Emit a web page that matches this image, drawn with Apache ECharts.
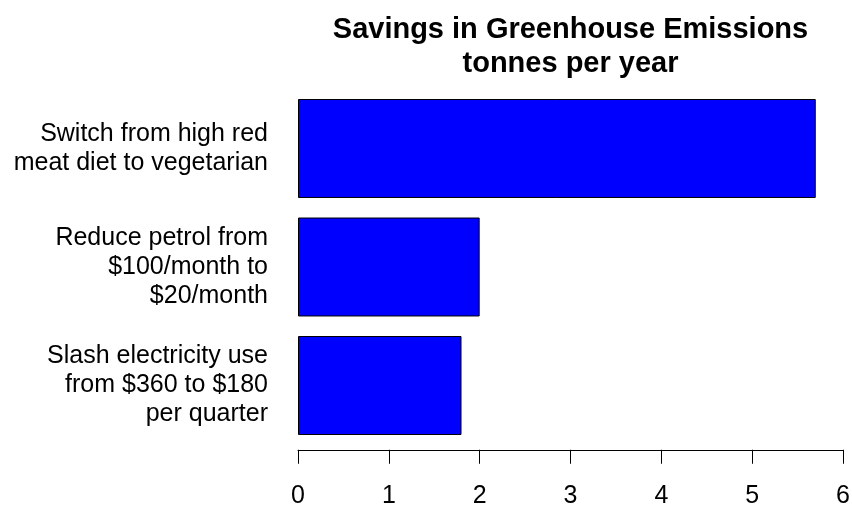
<!DOCTYPE html>
<html>
<head>
<meta charset="utf-8">
<script src="https://cdn.jsdelivr.net/npm/echarts@6/dist/echarts.min.js"></script>
<style>html,body{margin:0;padding:0;background:#fff}#c{width:852px;height:506px}</style>
</head>
<body>
<div id="c"></div>
<script>
const categories = [
  "Switch from high red\nmeat diet to vegetarian",
  "Reduce petrol from\n$100/month to\n$20/month",
  "Slash electricity use\nfrom $360 to $180\nper quarter"
];
const savings = [5.7, 2.0, 1.8];
const xTicks = [0, 1, 2, 3, 4, 5, 6];

const chart = echarts.init(document.getElementById('c'), null, {renderer: 'canvas'});
const font = 'Liberation Sans, Arial, Helvetica, sans-serif';
chart.setOption({
  animation: false,
  backgroundColor: '#ffffff',
  title: {
    text: 'Savings in Greenhouse Emissions\ntonnes per year',
    left: 570.5,
    top: 13,
    padding: 0,
    textAlign: 'center',
    textStyle: {fontFamily: font, fontSize: 29, fontWeight: 'bold', color: '#000', lineHeight: 34}
  },
  grid: {left: 298, right: 9, top: 89.25, bottom: 61.25, containLabel: false, outerBoundsMode: 'none'},
  xAxis: {
    type: 'value',
    min: xTicks[0],
    max: xTicks[xTicks.length - 1],
    interval: 1,
    offset: 5,
    axisLine: {show: true, lineStyle: {color: '#000', width: 1}},
    axisTick: {show: true, length: 14, inside: false, lineStyle: {color: '#000', width: 1}},
    splitLine: {show: false},
    axisLabel: {fontFamily: font, fontSize: 25, lineHeight: 25, color: '#000', margin: 34}
  },
  yAxis: {
    type: 'category',
    data: categories,
    inverse: true,
    axisLine: {show: false},
    axisTick: {show: false},
    splitLine: {show: false},
    axisLabel: {fontFamily: font, fontSize: 25, lineHeight: 29, color: '#000', margin: 30, align: 'right'}
  },
  series: [{
    type: 'bar',
    data: savings,
    barCategoryGap: '16.5%',
    itemStyle: {color: '#0000ff', borderColor: '#000', borderWidth: 1}
  }]
});
</script>
</body>
</html>
